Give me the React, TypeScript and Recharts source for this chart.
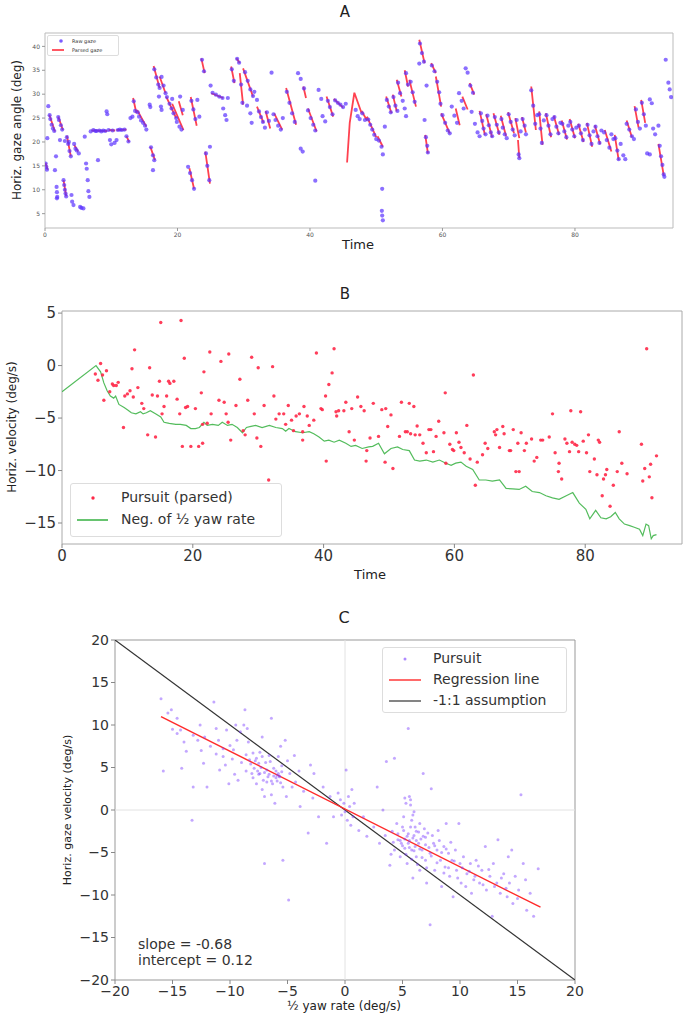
import React from "react";
import { ComposedChart, Scatter, Line, XAxis, YAxis, ReferenceArea, ReferenceLine } from "recharts";

const FONT = "'DejaVu Sans', sans-serif";

// ---- Panel A: horizontal gaze angle over time
const timeTicksA = [0, 20, 40, 60, 80];
const angleTicksA = [5, 10, 15, 20, 25, 30, 35, 40];
const rawGaze: number[][] = [
  [0.1,15.5],[0.2,14.8],[0.3,14.2],[0.35,20.8],[0.5,27.5],[0.7,25.6],[0.8,24.8],[1.0,23.6],[1.2,22.8],[1.4,22.3],
  [1.5,14.1],[1.66,17.0],[1.75,10.6],[1.8,9.5],[1.85,8.5],[1.8,8.2],[2.0,25.2],[2.1,24.6],[2.26,20.4],[2.4,23.5],
  [2.6,22.6],[2.8,12.0],[2.9,11.0],[3.0,10.0],[3.1,9.2],[3.2,8.6],[3.0,20.2],[3.3,21.0],[3.5,19.6],[3.7,18.1],
  [3.9,17.0],[3.6,20.0],[4.0,8.9],[4.1,7.5],[4.3,6.8],[4.4,19.6],[4.6,18.6],[4.8,18.2],[5.1,17.6],[5.3,6.4],
  [5.5,6.2],[5.8,6.1],[6.0,21.1],[6.2,15.5],[6.3,14.4],[6.45,12.0],[6.55,9.7],[6.7,8.5],[6.9,22.2],[7.3,22.5],
  [7.6,22.3],[7.8,22.3],[8.0,16.2],[8.2,22.4],[8.5,22.2],[8.8,22.4],[9.1,22.3],[9.3,26.4],[9.4,25.8],[9.6,22.5],
  [9.8,20.4],[10.0,19.5],[10.2,22.4],[10.5,19.8],[10.8,20.4],[11.0,22.5],[11.3,22.6],[11.6,22.5],[12.0,22.6],[12.3,21.2],
  [12.6,20.1],[12.9,25.0],[13.2,25.3],[13.4,28.5],[13.6,26.5],[14.0,26.2],[14.2,25.3],[14.5,24.5],[14.8,24.0],[15.1,23.4],
  [15.3,22.6],[15.8,27.8],[15.9,27.3],[16.0,18.9],[16.3,17.2],[16.5,16.2],[16.3,14.1],[16.5,35.2],[16.8,33.5],[17.1,32.0],
  [17.3,31.3],[17.2,29.5],[17.5,27.4],[17.6,26.7],[17.6,33.6],[17.9,31.8],[18.2,30.2],[18.4,29.4],[18.8,28.0],[19.1,27.0],
  [19.4,26.0],[19.8,25.0],[19.2,29.0],[19.9,24.2],[20.3,23.2],[20.6,22.6],[20.4,29.5],[20.8,26.7],[21.6,14.8],[21.9,13.5],
  [22.2,12.0],[22.5,10.2],[22.1,28.6],[22.4,26.8],[22.7,24.8],[23.0,28.8],[23.3,25.3],[23.7,37.2],[24.0,34.8],[24.3,17.6],
  [24.5,15.0],[24.8,12.0],[24.9,19.0],[25.0,31.8],[25.3,30.3],[25.8,29.9],[26.3,29.5],[26.8,29.2],[26.9,27.0],[27.2,25.6],
  [27.4,24.6],[27.6,29.2],[28.2,35.2],[28.5,32.8],[29.0,37.4],[29.3,36.6],[29.6,32.0],[29.8,28.2],[30.2,34.6],[30.6,32.8],
  [31.0,31.0],[31.4,29.6],[30.5,27.6],[31.0,26.0],[31.2,24.0],[31.6,30.5],[32.0,28.8],[32.3,26.4],[32.6,25.2],[32.9,24.2],
  [33.2,23.0],[33.5,26.2],[33.8,24.4],[34.2,34.5],[34.5,25.8],[34.8,24.6],[35.2,23.4],[35.6,22.6],[35.9,25.0],[36.5,30.5],
  [36.9,28.2],[37.3,26.0],[37.7,24.2],[38.2,34.4],[38.6,33.2],[38.6,18.6],[38.9,18.0],[39.1,31.2],[39.7,26.6],[40.1,25.0],
  [40.5,23.6],[40.8,22.4],[40.8,11.9],[41.3,30.9],[41.7,29.0],[41.9,25.4],[42.3,24.3],[42.7,28.6],[43.0,27.3],[43.4,25.8],
  [43.8,28.7],[44.2,28.2],[44.6,27.8],[45.0,27.3],[45.4,28.0],[46.9,26.7],[47.2,25.4],[47.5,24.8],[47.9,26.0],[48.3,24.6],
  [48.8,24.7],[49.1,23.6],[49.4,22.6],[49.7,21.5],[50.0,20.6],[50.4,20.3],[50.8,19.0],[51.0,17.4],[50.9,10.2],[50.85,5.6],
  [50.9,4.6],[51.0,3.6],[51.3,23.2],[51.6,28.8],[51.9,27.4],[52.2,26.2],[52.6,29.4],[52.9,27.6],[53.2,26.5],[53.3,32.4],
  [53.6,30.2],[54.0,28.6],[54.3,27.0],[54.5,25.4],[54.5,34.4],[54.8,32.0],[55.2,32.6],[55.5,30.4],[55.8,28.4],[56.6,40.6],
  [56.9,38.6],[56.5,36.4],[57.2,36.8],[57.3,24.6],[57.5,21.0],[57.7,19.2],[57.8,17.8],[57.6,31.8],[58.4,36.0],[58.8,34.8],
  [59.2,32.6],[59.5,30.4],[59.7,28.0],[60.0,25.6],[60.4,24.0],[60.8,22.4],[61.1,21.8],[61.4,27.4],[61.8,25.5],[62.2,24.0],
  [62.5,30.2],[62.9,28.6],[63.2,27.0],[63.5,35.4],[63.8,34.5],[64.2,31.8],[64.6,30.3],[64.4,26.3],[64.9,23.8],[65.3,22.0],
  [65.6,21.2],[65.8,26.0],[66.0,24.4],[66.2,22.8],[66.5,21.6],[66.8,25.5],[67.0,23.5],[67.3,22.0],[67.5,21.2],[67.9,25.2],
  [68.2,23.6],[68.5,22.0],[68.9,24.8],[69.1,23.0],[69.4,21.6],[69.7,20.8],[70.0,25.8],[70.3,24.2],[70.6,22.6],[70.9,21.4],
  [71.2,24.6],[71.5,17.4],[71.6,16.6],[71.8,22.2],[72.1,24.8],[72.4,23.4],[72.6,21.6],[73.4,30.8],[73.7,27.6],[74.0,23.8],
  [74.3,25.6],[74.6,25.8],[74.8,22.8],[75.0,19.8],[75.3,24.5],[75.7,25.6],[76.0,23.4],[76.3,21.6],[76.6,24.8],[76.9,25.2],
  [77.2,23.2],[77.5,21.8],[77.8,24.0],[78.1,23.8],[78.4,22.2],[78.7,21.0],[79.0,23.4],[79.3,24.2],[79.6,22.6],[79.9,21.2],
  [80.2,23.0],[80.6,23.4],[80.9,21.8],[81.2,20.4],[81.5,22.6],[81.9,23.6],[82.2,21.4],[82.5,19.6],[82.8,22.2],[83.1,23.2],
  [83.4,21.2],[83.7,19.8],[84.0,22.4],[84.4,22.0],[84.8,20.4],[85.2,18.8],[85.5,21.6],[85.8,20.6],[86.1,20.8],[86.4,18.2],
  [86.6,16.4],[86.9,19.6],[87.3,17.2],[87.6,16.4],[87.8,23.8],[88.2,22.6],[88.6,21.2],[88.9,20.6],[89.2,26.8],[89.5,24.2],
  [89.8,22.8],[90.1,28.2],[90.4,25.8],[90.7,23.4],[90.9,17.6],[91.3,17.4],[91.3,28.9],[91.6,28.1],[91.8,22.8],[92.1,21.6],
  [92.6,23.4],[92.8,19.2],[93.0,17.0],[93.2,15.2],[93.4,13.2],[93.5,12.7],[93.7,37.2],[94.1,32.4],[94.3,31.0],[94.5,29.4],
];
// each parsed segment: t0, y0, t1, y1 (, t2, y2)
const parsedGaze: number[][] = [
  [0.1,15.6,0.4,14.2],[0.65,25.7,1.5,22.2],[2.0,25.3,2.7,22.5],[2.8,12.0,3.2,8.6],[3.3,21.3,3.9,17.0],
  [4.4,19.4,5.0,18.0],[7.0,22.4,9.4,22.3],[9.6,22.5,10.6,22.4],[10.8,22.5,12.3,22.6],[12.3,21.2,12.7,20.0],
  [13.3,29.2,13.8,26.0],[13.9,26.7,15.3,23.2],[15.9,19.0,16.6,16.2],[16.4,35.9,17.3,31.3],[17.3,33.7,18.2,30.2],
  [18.3,29.5,19.8,25.0],[19.2,28.0,20.9,22.5],[20.2,28.5,20.8,25.6],[21.8,14.5,22.5,10.2],[22.0,29.4,22.9,23.4],
  [23.6,37.5,24.1,34.4],[24.2,18.0,24.9,11.3],[25.1,30.2,26.9,29.2],[28.1,35.8,28.6,32.3],[28.9,37.5,29.4,36.5],
  [29.4,34.4,29.9,27.8],[29.9,35.4,31.4,29.5],[32.0,27.4,33.0,24.0],[33.3,26.5,34.0,22.8],[34.6,26.0,35.8,22.6],
  [36.4,31.3,37.9,23.6],[39.0,31.6,39.4,29.2],[39.7,27.0,41.0,22.2],[42.5,29.5,43.5,25.3],[43.6,29.0,45.0,27.2],
  [45.6,15.7,46.0,24.0,46.7,30.3],[46.7,30.3,47.8,26.0],[47.8,26.5,48.6,24.5],[48.6,25.3,50.0,21.0],[50.2,21.2,51.0,19.0],
  [51.5,29.5,52.3,26.0],[52.5,29.9,53.1,26.4],[53.1,33.0,53.8,29.5],[54.3,35.0,54.8,31.6],[55.0,33.0,56.0,27.4],
  [56.5,41.4,57.3,36.5],[57.4,21.5,57.8,17.6],[58.3,36.5,59.0,34.4],[59.0,33.7,59.8,27.4],[59.8,26.0,61.1,21.8],
  [62.0,27.0,62.6,23.5],[63.0,29.5,63.8,26.8],[64.1,32.3,64.8,29.9],[65.6,26.5,66.4,21.5],[66.6,25.8,67.5,21.0],
  [67.7,26.0,68.6,21.5],[68.8,25.5,69.6,21.2],[69.9,26.2,70.8,21.8],[71.0,25.0,71.6,20.8],[71.4,20.4,71.6,16.6],
  [72.0,25.2,72.6,22.0],[73.4,31.6,74.1,22.5],[74.6,26.4,75.1,19.4],[75.6,26.0,76.4,21.0],[76.8,25.5,77.6,21.5],
  [78.0,24.5,78.8,20.5],[79.2,24.8,80.0,20.8],[80.5,23.8,81.3,20.0],[81.8,24.0,82.6,19.0],[83.0,23.5,83.8,19.5],
  [84.5,22.5,85.5,18.0],[86.0,21.5,86.6,16.2],[87.8,24.5,88.6,21.0],[89.0,27.5,89.6,23.0],[90.0,28.8,90.6,24.0],
  [92.6,19.6,93.4,13.0],
];

// ---- Panel B: pursuit velocity vs negative half yaw rate
const timeTicksB = [0, 20, 40, 60, 80];
const velTicksB = [-15, -10, -5, 0, 5];
const pursuitParsed: number[][] = [
  [15.1,4.1],[18.2,4.3],[11.1,1.5],[18.7,0.7],[5.9,0.2],[5.1,-0.8],[5.5,-1.4],[6.2,-0.9],[6.8,-0.5],[6.4,-3.3],
  [7.3,-2.5],[7.7,-1.75],[7.9,-1.9],[8.3,-1.9],[8.6,-1.6],[9.4,-5.9],[9.6,-2.9],[10.0,-2.7],[10.4,-2.4],[10.7,-0.3],
  [10.9,-3.0],[11.6,-2.1],[12.2,-3.6],[12.5,-4.1],[13.1,-6.6],[13.4,-0.2],[13.8,-2.8],[14.3,-6.8],[14.6,-2.9],[14.9,-1.5],
  [15.3,-4.6],[15.6,-3.9],[16.0,-2.9],[16.3,-1.5],[16.5,-1.7],[17.1,-1.5],[17.6,-3.2],[18.0,-4.6],[18.4,-7.7],[18.9,-4.0],
  [19.2,-3.9],[20.4,-4.1],[19.7,-7.7],[20.9,-7.7],[21.5,-7.4],[21.5,-5.6],[21.3,-2.6],[21.7,-0.6],[22.2,-5.5],[22.6,1.3],
  [22.8,-4.6],[24.0,-3.3],[24.3,0.4],[24.8,-3.5],[25.1,-4.6],[25.5,1.1],[25.8,-7.1],[25.4,-5.4],[26.6,-3.8],[27.2,-1.3],
  [27.7,-6.2],[28.0,-6.6],[28.4,-3.3],[29.0,0.8],[29.4,-4.6],[29.8,-6.9],[30.0,-0.2],[30.4,-7.7],[30.9,-3.8],[31.6,-10.9],
  [32.2,-0.1],[32.4,-2.9],[32.7,-5.1],[33.2,-4.6],[33.9,-4.6],[34.2,-5.6],[34.6,-3.8],[35.1,-5.2],[35.4,-6.2],[35.8,-4.8],
  [36.3,-4.6],[36.8,-7.1],[37.0,-3.9],[36.8,-6.3],[37.5,-4.8],[37.8,-5.7],[38.5,-5.2],[38.9,1.2],[39.6,-4.1],[39.8,-4.2],
  [40.3,-2.9],[40.4,-9.1],[40.8,-1.8],[41.3,-0.7],[41.6,1.6],[41.9,-4.4],[42.0,-4.8],[42.3,-4.3],[43.1,-4.3],[43.4,-3.5],
  [43.9,-6.3],[44.3,-4.1],[44.7,-7.1],[45.2,-3.0],[45.7,-3.9],[46.2,-4.3],[46.6,-8.1],[46.5,-9.1],[47.1,-6.9],[47.6,-3.6],
  [48.4,-6.75],[48.9,-4.2],[49.5,-4.1],[49.4,-9.2],[49.8,-5.8],[50.3,-4.7],[50.6,-9.8],[51.6,-6.75],[51.9,-3.5],[52.5,-6.3],
  [53.1,-3.6],[52.8,-6.3],[53.3,-6.5],[53.8,-3.9],[54.0,-6.6],[54.3,-5.75],[54.7,-6.6],[55.2,-7.4],[55.7,-8.3],[56.1,-6.1],
  [56.4,-6.1],[56.8,-8.2],[57.2,-6.75],[57.6,-5.3],[58.4,-6.4],[58.6,-2.6],[58.7,-9.3],[59.3,-7.5],[59.7,-8.0],[59.9,-8.1],
  [60.3,-6.4],[60.7,-7.3],[61.0,-7.8],[61.5,-8.3],[61.9,-5.7],[62.4,-8.9],[62.9,-0.9],[63.2,-11.4],[63.5,-9.2],[64.3,-8.5],
  [64.7,-7.4],[65.1,-7.9],[66.1,-6.3],[66.3,-6.6],[66.5,-6.1],[66.9,-7.8],[67.4,-5.8],[67.6,-6.5],[68.4,-8.1],[68.6,-8.1],
  [69.0,-6.1],[69.4,-10.1],[69.7,-7.4],[69.9,-10.1],[70.2,-6.4],[70.7,-8.1],[71.0,-7.4],[71.8,-7.0],[72.2,-9.1],[72.6,-8.75],
  [73.2,-7.1],[73.5,-7.1],[74.5,-6.8],[75.0,-4.6],[75.4,-8.3],[75.9,-10.1],[76.0,-9.3],[76.4,-10.8],[76.9,-7.0],[77.2,-7.4],
  [77.6,-8.2],[77.8,-4.3],[78.0,-7.3],[78.4,-7.5],[78.7,-7.6],[79.0,-8.2],[79.3,-4.4],[79.7,-7.2],[80.2,-8.3],[80.5,-6.6],
  [80.7,-10.1],[81.4,-8.9],[81.8,-10.4],[82.0,-7.1],[82.2,-7.3],[82.6,-12.4],[82.8,-10.8],[83.1,-10.4],[83.3,-9.9],[83.8,-13.4],
  [84.3,-11.4],[84.9,-10.1],[85.2,-6.3],[85.6,-9.3],[86.4,-10.3],[88.6,-7.5],[88.8,-11.0],[89.1,-9.8],[89.4,1.6],[89.8,-10.6],
  [90.0,-9.4],[90.2,-12.6],[90.9,-8.6],
];
const negHalfYaw: number[][] = [
  [0,-2.5],[5.2,0.0],[5.9,-0.6],[6.4,-1.65],[6.9,-2.4],[7.4,-2.9],[7.9,-3.1],[8.2,-2.9],[8.7,-3.7],[9.5,-4.0],
  [10.1,-4.25],[10.6,-4.5],[11.3,-4.6],[12.0,-4.4],[12.4,-4.6],[12.9,-4.5],[13.5,-4.3],[14.3,-4.6],[15.1,-4.9],[15.6,-5.4],
  [16.4,-5.5],[17.4,-5.6],[18.1,-5.6],[19.0,-5.7],[19.7,-6.0],[20.4,-6.0],[21.0,-5.9],[21.7,-5.4],[22.2,-5.7],[23.0,-5.6],
  [23.9,-5.7],[24.5,-5.4],[25.3,-5.7],[26.0,-5.6],[26.8,-5.9],[27.6,-6.4],[28.2,-5.9],[28.9,-5.8],[29.6,-5.7],[30.6,-5.9],
  [31.7,-5.7],[32.7,-5.9],[33.7,-6.0],[34.2,-6.25],[34.7,-6.0],[35.7,-6.3],[36.8,-6.4],[37.8,-6.3],[38.5,-6.5],[39.3,-6.8],
  [40.1,-7.2],[40.8,-7.1],[41.6,-7.3],[42.4,-7.1],[43.4,-7.4],[44.2,-7.7],[44.9,-7.6],[45.9,-7.9],[46.9,-7.75],[47.5,-7.7],
  [48.4,-7.4],[49.3,-8.4],[50.3,-7.9],[51.3,-7.75],[52.1,-8.0],[53.1,-8.1],[53.9,-9.0],[54.7,-9.1],[55.7,-9.0],[56.7,-9.2],
  [57.7,-9.0],[58.7,-9.3],[59.5,-9.5],[60.2,-9.3],[61.0,-9.2],[61.8,-9.6],[62.8,-9.9],[63.8,-10.9],[64.8,-10.9],[65.8,-11.0],
  [66.9,-10.9],[67.9,-11.7],[68.9,-11.75],[69.9,-11.8],[70.9,-11.5],[71.9,-12.0],[73.0,-12.1],[74.0,-12.4],[75.0,-12.6],[76.0,-12.75],
  [77.1,-12.4],[78.1,-12.1],[79.1,-13.1],[80.1,-13.7],[80.7,-14.6],[81.6,-13.8],[82.4,-14.5],[83.2,-14.6],[83.9,-14.4],[84.6,-14.0],
  [85.2,-14.6],[86.0,-15.1],[86.8,-15.25],[87.5,-15.4],[88.3,-15.6],[88.8,-16.2],[89.3,-15.1],[89.7,-15.25],[90.1,-16.5],[90.4,-16.2],
  [90.9,-16.1],
];

// ---- Panel C: gaze velocity vs half yaw rate
const axisTicksC = [-20, -15, -10, -5, 0, 5, 10, 15, 20];
const pursuitC: number[][] = [
  [-16.0,13.1],[-15.8,4.6],[-15.4,11.4],[-15.1,11.8],[-15.0,9.5],[-14.6,10.8],[-14.3,9.4],[-14.2,4.9],[-14.0,8.0],[-13.8,6.9],
  [-13.3,-1.2],[-13.2,2.7],[-12.8,8.2],[-12.6,10.0],[-12.5,7.0],[-12.3,5.5],[-12.0,2.7],[-11.7,7.5],[-11.4,12.7],[-11.2,9.6],
  [-11.0,8.2],[-10.9,4.7],[-10.6,6.3],[-10.4,5.3],[-10.3,9.4],[-10.1,3.1],[-10.0,7.6],[-9.7,7.1],[-9.5,10.0],[-9.4,8.2],
  [-9.3,3.5],[-9.1,9.2],[-8.8,10.0],[-8.7,11.8],[-8.6,6.5],[-8.5,9.6],[-8.4,8.0],[-8.3,5.9],[-8.1,4.3],[-8.0,6.7],
  [-7.9,4.9],[-7.7,6.1],[-7.7,3.1],[-7.5,5.5],[-7.5,4.2],[-7.4,4.3],[-7.2,6.3],[-7.2,8.6],[-7.1,3.5],[-7.0,-6.3],
  [-7.0,1.6],[-6.8,4.7],[-6.8,3.3],[-6.7,3.9],[-6.5,5.7],[-6.4,10.8],[-6.3,3.1],[-6.2,4.9],[-6.1,0.8],[-6.0,3.8],
  [-5.9,4.1],[-5.8,6.3],[-5.8,4.3],[-5.7,3.9],[-5.6,7.5],[-5.5,4.5],[-5.4,-5.9],[-5.4,2.7],[-5.2,8.2],[-5.1,1.6],
  [-4.9,-10.6],[-4.8,4.3],[-4.6,2.7],[-4.3,3.3],[-3.9,0.4],[-3.2,-2.7],[-3.0,5.3],[-2.7,4.3],[-2.3,-0.8],[-1.9,2.7],
  [-1.6,-3.9],[-1.3,1.6],[-1.0,-0.8],[-0.6,2.0],[-0.1,0.8],[0.0,-0.2],[0.1,4.7],[0.2,-1.2],[0.3,1.6],[0.4,0.4],
  [0.6,2.4],[0.7,-0.8],[1.2,-2.4],[1.6,-0.8],[1.9,-3.1],[2.5,-2.0],[2.8,2.7],[3.0,-3.9],[3.3,0.0],[3.6,5.7],
  [3.9,-6.5],[4.1,-2.5],[4.3,6.1],[4.3,-4.7],[4.5,-1.6],[4.6,-3.5],[4.8,-5.5],[4.9,-3.9],[5.1,-0.8],[5.1,-2.4],
  [5.2,-4.5],[5.3,0.8],[5.4,-3.1],[5.4,-6.3],[5.5,9.6],[5.5,-3.9],[5.7,1.2],[5.7,-2.0],[5.8,-4.7],[5.9,-3.3],
  [5.9,-8.0],[6.0,-0.2],[6.1,-4.3],[6.2,-2.5],[6.2,-5.5],[6.4,-3.9],[6.5,-7.1],[6.5,-1.6],[6.7,-4.7],[6.8,-3.1],
  [6.8,4.3],[7.0,-5.9],[7.0,-4.1],[7.1,-8.6],[7.2,-2.7],[7.4,-13.5],[7.4,-5.1],[7.5,2.5],[7.7,-3.9],[7.8,-7.1],
  [8.0,-4.7],[8.1,-2.4],[8.3,-5.9],[8.4,-9.0],[8.6,-4.3],[8.7,-6.7],[8.8,-1.6],[9.0,-5.1],[9.1,-7.8],[9.3,-5.9],
  [9.4,-10.2],[9.6,-4.7],[9.7,-7.1],[9.9,-1.6],[10.0,-6.3],[10.1,-8.6],[10.3,-5.5],[10.6,-7.5],[10.9,-6.3],[11.0,-9.8],
  [11.3,-7.8],[11.4,-5.9],[11.7,-8.6],[11.9,-7.1],[12.2,-4.3],[12.3,-9.4],[12.6,-7.8],[12.8,-12.5],[12.9,-6.3],[13.2,-8.6],
  [13.3,-3.5],[13.5,-9.8],[13.8,-7.5],[14.1,-10.2],[14.2,-5.5],[14.3,-8.6],[14.5,-4.7],[14.6,-11.0],[14.8,-7.8],[15.1,-9.4],
  [15.3,1.8],[15.5,-6.3],[15.7,-8.2],[15.8,-11.8],[16.1,-9.8],[16.4,-12.5],[16.8,-6.9],
  [4.6,-2.8],[4.8,-3.6],[5.0,-4.2],[5.0,-2.0],[5.2,-3.4],[5.3,-5.2],[5.5,-2.8],[5.6,-4.4],[5.6,-3.6],[5.8,-1.2],
  [5.8,-5.8],[6.0,-3.0],[6.0,-4.8],[6.1,-2.0],[6.2,-3.6],[6.3,-6.4],[6.4,-2.6],[6.5,-4.6],[6.6,-3.4],[6.7,-5.6],
  [6.9,-2.2],[7.0,-3.2],[7.1,-6.8],[7.3,-4.4],[7.5,-5.4],[7.6,-3.0],[7.8,-4.2],[8.0,-6.2],[8.2,-3.6],[8.4,-5.0],
  [8.6,-7.4],[8.8,-4.6],[9.0,-6.8],[9.2,-3.8],[9.5,-6.0],[9.8,-8.0],[10.2,-6.8],[10.5,-9.0],[10.8,-7.2],[11.2,-8.2],
  [11.6,-6.6],[12.0,-8.8],[12.5,-7.0],[13.0,-9.0],[13.6,-8.0],[14.0,-9.2],[15.0,-10.4],[5.7,0.6],[5.6,1.6],[5.9,-0.6],
  [5.2,1.4],[4.2,-3.8],[4.0,-5.2],[3.5,-3.0],
  [-8.2,5.4],[-7.8,5.8],[-7.6,4.6],[-7.3,5.0],[-7.0,4.4],[-6.9,5.6],[-6.6,4.2],[-6.4,3.4],[-6.2,4.0],[-6.0,4.6],
  [-5.9,3.4],[-5.7,4.0],[-5.6,3.2],[-5.5,5.2],[-6.6,6.4],[-7.4,6.8],[-8.6,4.6],[-9.0,5.6],[-9.8,6.0],[-10.6,7.2],
  [-11.2,6.6],[-12.2,8.6],[-13.2,8.8],[-14.6,9.0],[-9.6,4.2],[-8.0,3.8],[-7.2,2.4],[-6.4,1.8],[-5.0,5.8],[-4.4,6.4],
  [-4.0,4.6],[-3.6,2.2],[-2.8,1.4],[-0.3,-0.6],[0.5,-1.8],[0.8,0.8],[-0.4,1.2],
];
const regressionLine: number[][] = [[-16, 10.99], [17, -11.44]];
const unityLine: number[][] = [[-20, 20], [20, -20]];

const toXY = (pts: number[][]) => pts.map(([x, y]) => ({ x, y }));
const minus = (v: number) => (v < 0 ? `\u2212${Math.abs(v)}` : `${v}`);

const parsedData = parsedGaze.flatMap((seg) => {
  const pts: { x: number; y: number | null }[] = [];
  for (let i = 0; i < seg.length; i += 2) pts.push({ x: seg[i], y: seg[i + 1] });
  pts.push({ x: seg[seg.length - 2], y: null });
  return pts;
});

const dot = (color: string, r: number, opacity: number) => (p: any) =>
  <circle cx={p.cx} cy={p.cy} r={r} fill={color} fillOpacity={opacity} />;

function Txt({ x, y, size, rotate, children }: any) {
  return (
    <div style={{
      position: "absolute", left: x, top: y, fontSize: size, fontFamily: FONT, color: "#222",
      whiteSpace: "nowrap", lineHeight: 1,
      transform: `translate(-50%, -50%)${rotate ? " rotate(-90deg)" : ""}`,
    }}>{children}</div>
  );
}

function PanelA() {
  return (
    <div style={{ position: "absolute", left: 0, top: 0 }}>
      <ComposedChart width={685} height={260} margin={{ top: 33, right: 12, bottom: 12, left: 5 }}>
        <XAxis type="number" dataKey="x" domain={[0, 94.8]} allowDataOverflow ticks={timeTicksA}
          axisLine={false} tickSize={3} tickLine={{ stroke: "#999" }} height={20}
          tick={{ fontSize: 6, fill: "#555", fontFamily: FONT }} />
        <YAxis type="number" domain={[2, 42.8]} allowDataOverflow ticks={angleTicksA} width={40}
          axisLine={false} tickSize={3} tickLine={{ stroke: "#999" }}
          tick={{ fontSize: 6, fill: "#555", fontFamily: FONT }} />
        <ReferenceArea x1={0} x2={94.8} y1={2} y2={42.8} fill="none" stroke="#bbb" />
        <Scatter data={toXY(rawGaze)} dataKey="y" isAnimationActive={false} shape={dot("#5a32ff", 2.1, 0.7)} />
        <Line data={parsedData} dataKey="y" type="linear" stroke="#ff2030" strokeOpacity={0.85}
          strokeWidth={1.8} dot={false} isAnimationActive={false} />
      </ComposedChart>
      <Txt x={345} y={12} size={15}>A</Txt>
      <Txt x={358} y={244} size={13}>Time</Txt>
      <Txt x={17} y={130} size={12} rotate>Horiz. gaze angle (deg)</Txt>
      <div style={{ position: "absolute", left: 47, top: 35, width: 70, height: 19, border: "1px solid #ddd",
        borderRadius: 2, background: "rgba(255,255,255,0.85)", fontFamily: FONT, fontSize: 5, color: "#333" }}>
        <svg width={70} height={19} style={{ position: "absolute", left: 0, top: 0 }}>
          <circle cx={13} cy={5} r={1.8} fill="#5a32ff" fillOpacity={0.8} />
          <line x1={4} y1={14} x2={16} y2={14} stroke="#ff2030" strokeWidth={1.5} />
        </svg>
        <div style={{ position: "absolute", left: 24, top: 2 }}>Raw gaze</div>
        <div style={{ position: "absolute", left: 24, top: 11 }}>Parsed gaze</div>
      </div>
    </div>
  );
}

function PanelB() {
  return (
    <div style={{ position: "absolute", left: 0, top: 290 }}>
      <ComposedChart width={685} height={300} margin={{ top: 21, right: 3, bottom: 21, left: 12 }}>
        <XAxis type="number" dataKey="x" domain={[0, 94.8]} allowDataOverflow ticks={timeTicksB}
          axisLine={false} tickSize={4} tickLine={{ stroke: "#888" }} height={25}
          tick={{ fontSize: 15, fill: "#333", fontFamily: FONT }} />
        <YAxis type="number" domain={[-17, 5.2]} allowDataOverflow ticks={velTicksB} width={50}
          axisLine={false} tickSize={4} tickLine={{ stroke: "#888" }} tickFormatter={minus}
          tick={{ fontSize: 15, fill: "#333", fontFamily: FONT }} />
        <ReferenceArea x1={0} x2={94.8} y1={-17} y2={5.2} fill="none" stroke="#aaa" />
        <Scatter data={toXY(pursuitParsed)} dataKey="y" isAnimationActive={false} shape={dot("#ff2848", 1.7, 0.9)} />
        <Line data={toXY(negHalfYaw)} dataKey="y" type="linear" stroke="#35b040" strokeOpacity={0.85}
          strokeWidth={1.2} dot={false} isAnimationActive={false} />
      </ComposedChart>
      <Txt x={345} y={4} size={15}>B</Txt>
      <Txt x={370} y={284} size={13}>Time</Txt>
      <Txt x={12} y={137} size={12} rotate>Horiz. velocity (deg/s)</Txt>
      <div style={{ position: "absolute", left: 70, top: 193, width: 210, height: 52, border: "1px solid #ddd",
        borderRadius: 3, background: "rgba(255,255,255,0.85)", fontFamily: FONT, fontSize: 14, color: "#333" }}>
        <svg width={210} height={52} style={{ position: "absolute", left: 0, top: 0 }}>
          <circle cx={22} cy={14} r={1.7} fill="#ff2848" />
          <line x1={6} y1={36} x2={37} y2={36} stroke="#35b040" strokeWidth={1.5} />
        </svg>
        <div style={{ position: "absolute", left: 50, top: 5 }}>Pursuit (parsed)</div>
        <div style={{ position: "absolute", left: 50, top: 27 }}>Neg. of ½ yaw rate</div>
      </div>
    </div>
  );
}

function PanelC() {
  return (
    <div style={{ position: "absolute", left: 0, top: 610 }}>
      <ComposedChart width={685} height={405} margin={{ top: 30, right: 110, bottom: 13, left: 70 }}>
        <XAxis type="number" dataKey="x" domain={[-20, 20]} allowDataOverflow ticks={axisTicksC}
          axisLine={false} tickSize={4} tickLine={{ stroke: "#888" }} height={22} tickFormatter={minus}
          tick={{ fontSize: 14, fill: "#333", fontFamily: FONT }} />
        <YAxis type="number" domain={[-20, 20]} allowDataOverflow ticks={axisTicksC} width={45}
          axisLine={false} tickSize={4} tickLine={{ stroke: "#888" }} tickFormatter={minus}
          tick={{ fontSize: 14, fill: "#333", fontFamily: FONT }} />
        <ReferenceArea x1={-20} x2={20} y1={-20} y2={20} fill="none" stroke="#999" />
        <ReferenceLine x={0} stroke="#e2e2e2" />
        <ReferenceLine y={0} stroke="#e2e2e2" />
        <Scatter data={toXY(pursuitC)} dataKey="y" isAnimationActive={false} shape={dot("#7a3cff", 1.5, 0.45)} />
        <Line data={toXY(unityLine)} dataKey="y" type="linear" stroke="#333" strokeWidth={1.2}
          dot={false} isAnimationActive={false} />
        <Line data={toXY(regressionLine)} dataKey="y" type="linear" stroke="#ff2a2a" strokeWidth={1.4}
          dot={false} isAnimationActive={false} />
      </ComposedChart>
      <Txt x={344} y={8} size={16}>C</Txt>
      <Txt x={344} y={396} size={12}>½ yaw rate (deg/s)</Txt>
      <Txt x={67} y={200} size={11} rotate>Horiz. gaze velocity (deg/s)</Txt>
      <div style={{ position: "absolute", left: 138, top: 326, fontFamily: FONT, fontSize: 14, color: "#333", lineHeight: "16px" }}>
        <div>slope = -0.68</div>
        <div>intercept = 0.12</div>
      </div>
      <div style={{ position: "absolute", left: 382, top: 37, width: 183, height: 64, border: "1px solid #ddd",
        borderRadius: 3, background: "rgba(255,255,255,0.85)", fontFamily: FONT, fontSize: 14, color: "#333" }}>
        <svg width={183} height={64} style={{ position: "absolute", left: 0, top: 0 }}>
          <circle cx={22} cy={11} r={1.5} fill="#7a3cff" fillOpacity={0.6} />
          <line x1={6} y1={32} x2={38} y2={32} stroke="#ff2a2a" strokeWidth={1.4} />
          <line x1={6} y1={53} x2={38} y2={53} stroke="#333" strokeWidth={1.2} />
        </svg>
        <div style={{ position: "absolute", left: 50, top: 2 }}>Pursuit</div>
        <div style={{ position: "absolute", left: 50, top: 23 }}>Regression line</div>
        <div style={{ position: "absolute", left: 50, top: 44 }}>-1:1 assumption</div>
      </div>
    </div>
  );
}

export default function App() {
  return (
    <div style={{ position: "absolute", left: 0, top: 0, width: 685, height: 1015, background: "#fff", overflow: "hidden" }}>
      <PanelA />
      <PanelB />
      <PanelC />
    </div>
  );
}
